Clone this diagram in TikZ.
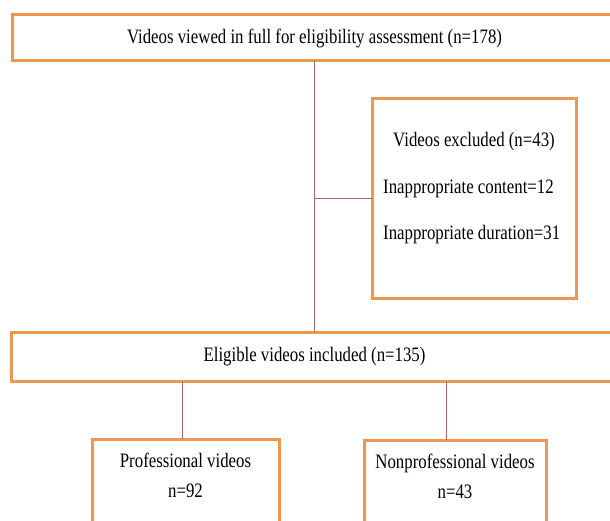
\documentclass[tikz,border=0pt]{standalone}
\usepackage{fontspec}
\setmainfont[FakeStretch=0.82]{Liberation Serif}
\usepackage{xcolor}
\usetikzlibrary{positioning}
\definecolor{boxorange}{RGB}{236,152,84}
\definecolor{linkbrown}{RGB}{168,104,98}
\tikzset{
	every node/.style={
		align=center,
		font=\fontsize{20.5}{30}\selectfont,
	},
}
\tikzstyle{box} = [draw=boxorange, line width=3pt, outer sep=0pt]
\tikzstyle{link} = [draw=linkbrown, line width=0.8pt]

\begin{document}
\begin{tikzpicture}[x=1pt, y=-1pt]
    \path[use as bounding box, clip] (0,0) rectangle (610,521);

    \node[box, minimum width=605pt, minimum height=46pt] (viewed) at (314.5,38) {Videos viewed in full for eligibility assessment (n=178)};
    \node[box, minimum width=606pt, minimum height=49pt, below=271pt of viewed] (eligible) {Eligible videos included (n=135)};
    \node[box, minimum width=204pt, minimum height=199pt, below right=38pt and 57.5pt of viewed.south] (excluded) {};
    \node[anchor=west, align=left, inner sep=0pt, font=\fontsize{20.5}{46.5}\selectfont] (reasons) at ([xshift=11pt, yshift=10pt]excluded.west) {\hspace*{10pt}Videos excluded (n=43)\\Inappropriate content=12\\Inappropriate duration=31};

    \node[box, minimum width=187pt, minimum height=120pt, below=58pt of eligible, xshift=-129pt] (professional) {};
    \node[box, minimum width=182pt, minimum height=120pt, below=59pt of eligible, xshift=140.5pt] (nonprofessional) {};
    \node[] (proftext) at ([yshift=-36.5pt]professional.north) {Professional videos\\n=92};
    \node[] (nonproftext) at ([yshift=-36.5pt]nonprofessional.north) {Nonprofessional videos\\n=43};

    \draw[link] (viewed) -- (eligible);
    \draw[link] (excluded.west) -- (excluded.west -| viewed.south);
    \draw[link] ([xshift=-3.5pt]professional.north) -- ([xshift=-3.5pt]professional.north |- eligible.south);
    \draw[link] ([xshift=-9pt]nonprofessional.north) -- ([xshift=-9pt]nonprofessional.north |- eligible.south);

\end{tikzpicture}
\end{document}
